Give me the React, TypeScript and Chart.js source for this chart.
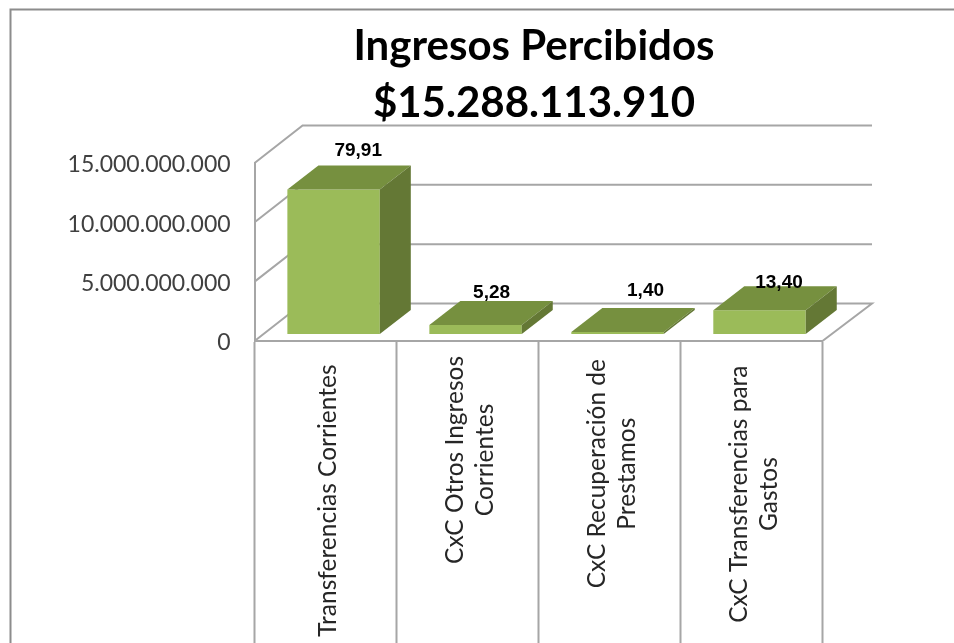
import React, { useEffect, useRef } from "react";
import { Chart, registerables } from "chart.js";

Chart.register(...registerables);

const titleLines = ["Ingresos Percibidos", "$15.288.113.910"];
const categoryLines = [
  ["Transferencias Corrientes"],
  ["CxC Otros Ingresos", "Corrientes"],
  ["CxC Recuperación de", "Prestamos"],
  ["CxC Transferencias para", "Gastos"],
];
const categories = categoryLines.map((l) => l.join(" "));
const ingresos = [12217000000, 807000000, 214000000, 2049000000];
const percentLabels = ["79,91", "5,28", "1,40", "13,40"];
const yMax = 15000000000;
const yStep = 5000000000;

const FRONT = "#9BBB59";
const TOP = "#76903F";
const SIDE = "#647835";
const GRID = "#A6A6A6";
const CAT_FONT = "24.5px Lato";
const LABEL_FONT = "bold 19px 'Liberation Sans'";
const labelNudge = [
  [24.6, -39],
  [16, -32],
  [28, -41],
  [19.5, -27.7],
];
const catTopGap = [23.5, 15, 18, 24.5];
const WALL = { dxLeft: 48, dxRight: 49.5, dy: -37.5 };
const BAR = { dx: 31, dy: -24, ox: 8, oy: -6.5 };

const scene = {
  id: "scene",
  beforeDraw(chart: any) {
    const { ctx, scales, chartArea } = chart;
    const y = scales.y;
    y.getLabelItems(chartArea).forEach((item: any) => {
      item.options.translation[1] += 2;
    });
    ctx.save();
    ctx.strokeStyle = "#8C8C8C";
    ctx.lineWidth = 2;
    ctx.beginPath();
    ctx.moveTo(10.5, 643);
    ctx.lineTo(10.5, 9.5);
    ctx.lineTo(954, 9.5);
    ctx.stroke();
    ctx.strokeStyle = GRID;
    ctx.lineWidth = 2;
    const L = chartArea.left;
    const R = chartArea.right;
    for (const t of y.ticks) {
      const py = y.getPixelForValue(t.value);
      ctx.beginPath();
      ctx.moveTo(L, py);
      ctx.lineTo(L + WALL.dxLeft, py + WALL.dy);
      ctx.lineTo(R + WALL.dxRight, py + WALL.dy);
      if (t.value === 0) ctx.lineTo(R, py);
      ctx.stroke();
    }
    ctx.restore();
  },
  beforeDatasetsDraw(chart: any) {
    chart.ctx.save();
    chart.ctx.translate(BAR.ox, BAR.oy);
  },
  afterDatasetsDraw(chart: any) {
    const { ctx } = chart;
    ctx.restore();
    const meta = chart.getDatasetMeta(0);
    meta.data.forEach((bar: any, i: number) => {
      const { x, y, base, width } = bar.getProps(["x", "y", "base", "width"], true);
      const l = x - width / 2 + BAR.ox;
      const r = x + width / 2 + BAR.ox;
      const t = y + BAR.oy;
      const b = base + BAR.oy;
      ctx.fillStyle = TOP;
      ctx.beginPath();
      ctx.moveTo(l, t);
      ctx.lineTo(l + BAR.dx, t + BAR.dy);
      ctx.lineTo(r + BAR.dx, t + BAR.dy);
      ctx.lineTo(r, t);
      ctx.closePath();
      ctx.fill();
      ctx.fillStyle = SIDE;
      ctx.beginPath();
      ctx.moveTo(r, t);
      ctx.lineTo(r + BAR.dx, t + BAR.dy);
      ctx.lineTo(r + BAR.dx, b + BAR.dy);
      ctx.lineTo(r, b);
      ctx.closePath();
      ctx.fill();
      ctx.fillStyle = "#000000";
      ctx.font = LABEL_FONT;
      ctx.textAlign = "center";
      ctx.textBaseline = "middle";
      ctx.fillText(percentLabels[i], x + BAR.ox + labelNudge[i][0], t + labelNudge[i][1]);
    });
  },
  afterDraw(chart: any) {
    const { ctx, scales } = chart;
    const x = scales.x;
    ctx.save();
    ctx.font = CAT_FONT;
    ctx.fillStyle = "#262626";
    ctx.textAlign = "center";
    ctx.textBaseline = "middle";
    categoryLines.forEach((lines, i) => {
      const cx = x.getPixelForTick(i);
      const longest = Math.max(...lines.map((s) => ctx.measureText(s).width));
      const anchorY = x.top + catTopGap[i] + longest / 2;
      lines.forEach((s, j) => {
        ctx.save();
        ctx.translate(cx + (j - (lines.length - 1) / 2) * 30.5, anchorY);
        ctx.rotate(-Math.PI / 2);
        ctx.fillText(s, 0, 2.5);
        ctx.restore();
      });
    });
    ctx.restore();
  },
  afterLayout(chart: any) {
    if (chart.titleBlock) {
      chart.titleBlock.left = 114;
      chart.titleBlock.right = 954;
    }
  },
};

export default function App() {
  const ref = useRef<HTMLCanvasElement>(null);
  useEffect(() => {
    const chart = new Chart(ref.current as HTMLCanvasElement, {
      type: "bar",
      data: {
        labels: categories,
        datasets: [
          {
            label: "Ingresos Percibidos",
            data: ingresos,
            backgroundColor: FRONT,
            barPercentage: 0.651,
            categoryPercentage: 1,
          },
        ],
      },
      plugins: [scene],
      options: {
        responsive: false,
        animation: false,
        layout: { padding: { top: 18, left: 0, right: 131.5, bottom: 0 } },
        plugins: {
          legend: { display: false },
          tooltip: { enabled: false },
          title: {
            display: true,
            text: titleLines,
            color: "#000000",
            font: { family: "Lato", size: 42, weight: "bold", lineHeight: 1.357 },
            padding: { top: 0, bottom: 31 },
          },
        },
        scales: {
          x: {
            afterFit(s: any) {
              s.height = 302;
            },
            border: { color: GRID, width: 2 },
            grid: {
              offset: true,
              drawOnChartArea: false,
              drawTicks: true,
              tickLength: 302,
              tickColor: GRID,
              tickWidth: 2,
            },
            ticks: { display: false },
          },
          y: {
            min: 0,
            max: yMax,
            afterFit(s: any) {
              s.width = 254.6;
            },
            border: { color: GRID, width: 2 },
            grid: { drawOnChartArea: false, drawTicks: false },
            ticks: {
              stepSize: yStep,
              padding: 24,
              color: "#404040",
              font: { family: "Lato", size: 23 },
              callback: (v: any) => String(v).replace(/\B(?=(\d{3})+(?!\d))/g, "."),
            },
          },
        },
      },
    } as any);
    return () => chart.destroy();
  }, []);
  return (
    <div style={{ position: "fixed", left: 0, top: 0, width: 954, height: 643, overflow: "hidden", background: "#fff" }}>
      <canvas ref={ref} width={954} height={643} style={{ display: "block" }} />
    </div>
  );
}
